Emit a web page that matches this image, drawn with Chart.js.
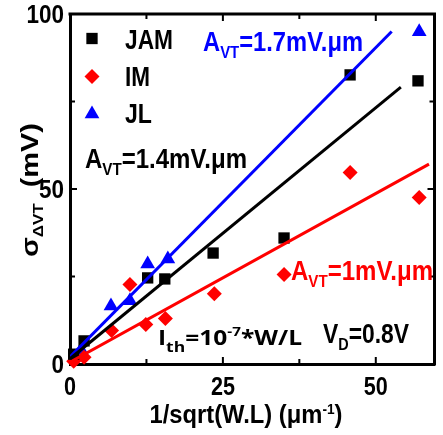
<!DOCTYPE html>
<html>
<head>
<meta charset="utf-8">
<script src="https://cdn.jsdelivr.net/npm/chart.js@4.4.0/dist/chart.umd.min.js"></script>
<style>
  html, body { margin: 0; padding: 0; background: #fff; }
  #wrap { width: 443px; height: 435px; }
</style>
</head>
<body>
<div id="wrap"><canvas id="chart" width="443" height="435"></canvas></div>
<script>
const FONT = "'Liberation Sans', Arial, sans-serif";
const FONT_TH = "'Open Sans', 'Noto Sans', sans-serif";
const BLUE = '#0000ff';
const RED = '#ff0000';
const BLACK = '#000000';

// measured points
const JAM_X = [0.6, 2.3, 12.7, 15.5, 23.4, 35.0, 45.8, 56.9];
const JAM_Y = [2.8, 6.6, 24.6, 24.3, 31.7, 36.0, 82.6, 80.9];
const IM_X = [0.6, 2.3, 6.8, 9.8, 12.4, 15.6, 23.6, 35.0, 45.8, 57.1];
const IM_Y = [0.8, 1.9, 9.6, 22.7, 11.3, 13.0, 20.1, 25.6, 54.7, 47.6];
const JL_X = [0.8, 1.8, 6.7, 9.8, 12.7, 16.0, 57.1];
const JL_Y = [2.0, 4.0, 16.6, 18.1, 28.6, 30.0, 94.9];

// linear fits (end points)
const JAM_FIT_X = [0, 54.1];
const JAM_FIT_Y = [1.5, 79.1];
const IM_FIT_X = [0, 58.7];
const IM_FIT_Y = [0.5, 57.1];
const JL_FIT_X = [0, 52.6];
const JL_FIT_Y = [2.0, 95.0];

const X_TICKS = [0, 25, 50];
const X_MINOR = [12.5, 37.5];
const Y_TICKS = [0, 50, 100];
const Y_MINOR = [25, 75];

const xy = (xs, ys) => xs.map((x, i) => ({ x, y: ys[i] }));

// draws a run of text parts (main / sub / sup), squeezed to a target width
function drawRich(ctx, x, y, parts, o) {
  ctx.save();
  ctx.translate(x, y);
  if (o.rot) ctx.rotate(o.rot);
  ctx.fillStyle = o.color || BLACK;
  ctx.textBaseline = 'alphabetic';
  ctx.textAlign = 'left';
  const fam = o.family || FONT;
  let natural = 0;
  parts.forEach(p => {
    ctx.font = `bold ${p.size || o.size}px ${fam}`;
    natural += ctx.measureText(p.t).width;
  });
  const sx = o.width ? o.width / natural : 1;
  let cx = o.center ? -natural * sx / 2 : 0;
  parts.forEach(p => {
    ctx.font = `bold ${p.size || o.size}px ${fam}`;
    const w = ctx.measureText(p.t).width;
    ctx.save();
    ctx.translate(cx, p.dy || 0);
    ctx.scale(sx, 1);
    ctx.fillText(p.t, 0, 0);
    ctx.restore();
    cx += w * sx;
  });
  ctx.restore();
}

const decorations = {
  id: 'decorations',
  afterDraw(chart) {
    const { ctx, chartArea: a, scales: { x, y } } = chart;
    ctx.save();
    ctx.strokeStyle = BLACK;
    ctx.lineWidth = 3;
    ctx.beginPath();
    ctx.moveTo(a.left - 1.5, a.top);
    ctx.lineTo(a.right, a.top);
    ctx.lineTo(a.right, a.bottom + 1.5);
    ctx.stroke();

    // inward ticks, mirrored
    ctx.lineWidth = 2;
    const tk = (vals, len) => vals.forEach(v => {
      const px = x.getPixelForValue(v);
      ctx.beginPath();
      ctx.moveTo(px, a.bottom); ctx.lineTo(px, a.bottom - len);
      ctx.moveTo(px, a.top); ctx.lineTo(px, a.top + len);
      ctx.stroke();
    });
    const tky = (vals, len) => vals.forEach(v => {
      const py = y.getPixelForValue(v);
      ctx.beginPath();
      ctx.moveTo(a.left, py); ctx.lineTo(a.left + len, py);
      ctx.moveTo(a.right, py); ctx.lineTo(a.right - len, py);
      ctx.stroke();
    });
    tk(X_TICKS.filter(v => v > 0), 7);
    tk(X_MINOR, 5);
    tky(Y_TICKS.filter(v => v > 0 && v < 100), 7);
    tky(Y_MINOR, 5);
    ctx.restore();

    // tick labels
    X_TICKS.forEach(v => {
      drawRich(ctx, x.getPixelForValue(v), a.bottom + 31, [{ t: String(v) }],
        { size: 26, width: String(v).length * 12, center: true });
    });
    Y_TICKS.forEach(v => {
      const s = String(v);
      const w = s.length * 12.5;
      drawRich(ctx, a.left - 6 - w, y.getPixelForValue(v) + 9, [{ t: s }], { size: 26, width: w });
    });

    // axis titles
    drawRich(ctx, 246, 423, [
      { t: '1/sqrt(W.L) (μm' }, { t: '-1', size: 15, dy: -9 }, { t: ')' }
    ], { size: 26, width: 193, center: true });
    drawRich(ctx, 38, 190, [
      { t: 'σ', size: 24 }, { t: 'ΔVT', size: 14, dy: 5 }, { t: '  (mV)', size: 24 }
    ], { size: 24, width: 134, center: true, rot: -Math.PI / 2 });

    // legend
    const ds = chart.data.datasets;
    const leg = [[0, 38.5, 'JAM', 49, 48], [1, 76.5, 'IM', 86, 25], [2, 114, 'JL', 123, 27]];
    leg.forEach(([i, my, label, by, w]) => {
      const d = ds[i];
      ctx.save();
      ctx.fillStyle = d.backgroundColor;
      Chart.helpers.drawPoint(ctx, { pointStyle: d.pointStyle, radius: d.pointRadius, rotation: 0, borderWidth: 0 }, 92, my);
      ctx.restore();
      drawRich(ctx, 125, by, [{ t: label }], { size: 27, width: w, color: BLACK });
    });

    // annotations
    const avt = (val) => [{ t: 'A' }, { t: 'VT', size: 17, dy: 7 }, { t: '=' + val + 'mV.μm' }];
    drawRich(ctx, 203, 51, avt('1.7'), { size: 27, width: 160, color: BLUE });
    drawRich(ctx, 85, 168, avt('1.4'), { size: 27, width: 162, color: BLACK });
    drawRich(ctx, 291, 280, avt('1'), { size: 27, width: 142, color: RED });
    drawRich(ctx, 323, 343, [{ t: 'V' }, { t: 'D', size: 17, dy: 7 }, { t: '=0.8V' }],
      { size: 27, width: 86, color: BLACK });
    drawRich(ctx, 158, 345, [
      { t: 'I' }, { t: 'th', size: 15, dy: 7 }, { t: '=10' }, { t: '-7', size: 13, dy: -9 }, { t: '*W/L' }
    ], { size: 21, width: 144, color: BLACK, family: FONT_TH });
  }
};

const pointSet = (label, xs, ys, color, style, r) => ({
  label, data: xy(xs, ys), backgroundColor: color, borderColor: color,
  pointStyle: style, pointRadius: r, pointHoverRadius: r, pointBorderWidth: 0,
  showLine: false, clip: false, order: 1
});
const fitSet = (label, xs, ys, color) => ({
  label, data: xy(xs, ys), borderColor: color, backgroundColor: color,
  borderWidth: 3, pointRadius: 0, showLine: true, order: 0
});

new Chart(document.getElementById('chart'), {
  type: 'scatter',
  data: {
    datasets: [
      pointSet('JAM', JAM_X, JAM_Y, BLACK, 'rect', 8),
      pointSet('IM', IM_X, IM_Y, RED, 'rectRot', 7.5),
      pointSet('JL', JL_X, JL_Y, BLUE, 'triangle', 8.5),
      fitSet('JAM fit', JAM_FIT_X, JAM_FIT_Y, BLACK),
      fitSet('IM fit', IM_FIT_X, IM_FIT_Y, RED),
      fitSet('JL fit', JL_FIT_X, JL_FIT_Y, BLUE),
    ],
  },
  options: {
    responsive: false,
    animation: false,
    layout: { padding: { top: 14, right: 8, left: 0, bottom: 0 } },
    plugins: { legend: { display: false }, tooltip: { enabled: false } },
    scales: {
      x: {
        type: 'linear', min: 0, max: 59.6,
        afterFit: (s) => { s.height = 71; },
        grid: { display: false },
        border: { display: true, color: BLACK, width: 3 },
        ticks: { display: false, stepSize: 25, includeBounds: false },
      },
      y: {
        type: 'linear', min: 0, max: 100,
        afterFit: (s) => { s.width = 70; },
        grid: { display: false },
        border: { display: true, color: BLACK, width: 3 },
        ticks: { display: false, stepSize: 50 },
      },
    },
  },
  plugins: [decorations],
});
</script>
</body>
</html>
